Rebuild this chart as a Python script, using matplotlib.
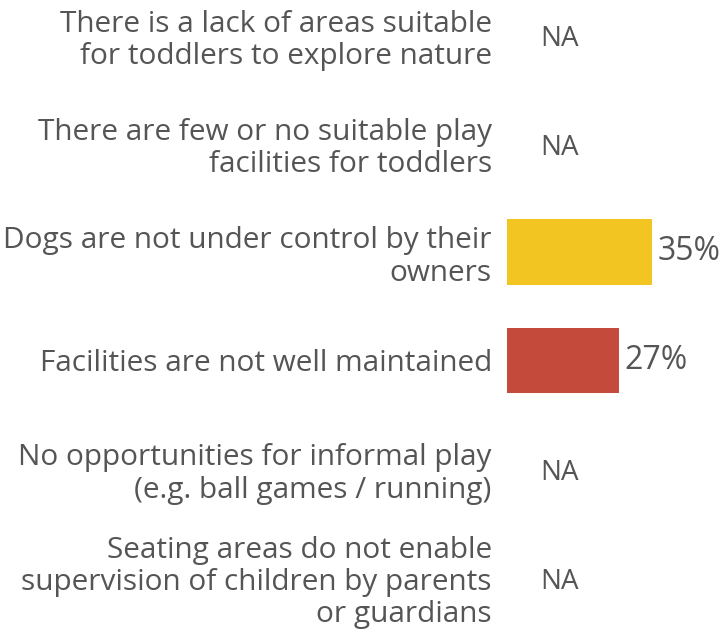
import numpy as np
import matplotlib.pyplot as plt

# survey data
categories = [
    "There is a lack of areas suitable\nfor toddlers to explore nature",
    "There are few or no suitable play\nfacilities for toddlers",
    "Dogs are not under control by their\nowners",
    "Facilities are not well maintained",
    "No opportunities for informal play\n(e.g. ball games / running)",
    "Seating areas do not enable\nsupervision of children by parents\nor guardians",
]
values = [np.nan, np.nan, 35, 27, np.nan, np.nan]
colors = ["#f2c522", "#f2c522", "#f2c522", "#c44b3c", "#f2c522", "#f2c522"]

plt.rcParams['font.family'] = ['Open Sans', 'DejaVu Sans']
text_color = "#555555"

fig = plt.figure(figsize=(7.24, 6.35), dpi=100)
ax = fig.add_axes([0.700, 0.0, 0.300, 1.0])

y = np.arange(len(categories))
vals = np.nan_to_num(values)
ax.barh(y, vals, height=0.6, color=colors)

for yi, v in zip(y, values):
    if np.isnan(v):
        ax.text(12.8, yi + 0.04, "NA", ha='center', va='center', fontsize=20, color=text_color)
    else:
        ax.text(v + 1.4, yi, f"{v:.0f}%", ha='left', va='center', fontsize=23, color=text_color)

ax.set_yticks(y)
ax.set_yticklabels(categories, fontsize=21.4, color=text_color, linespacing=1.15)
ax.tick_params(axis='y', length=0, pad=10.8)
ax.set_xticks([])
ax.set_xlim(0, 52.4)
ax.set_ylim(5.530, -0.3226)
for s in ax.spines.values():
    s.set_visible(False)

fig.savefig("out.png", dpi=100)
